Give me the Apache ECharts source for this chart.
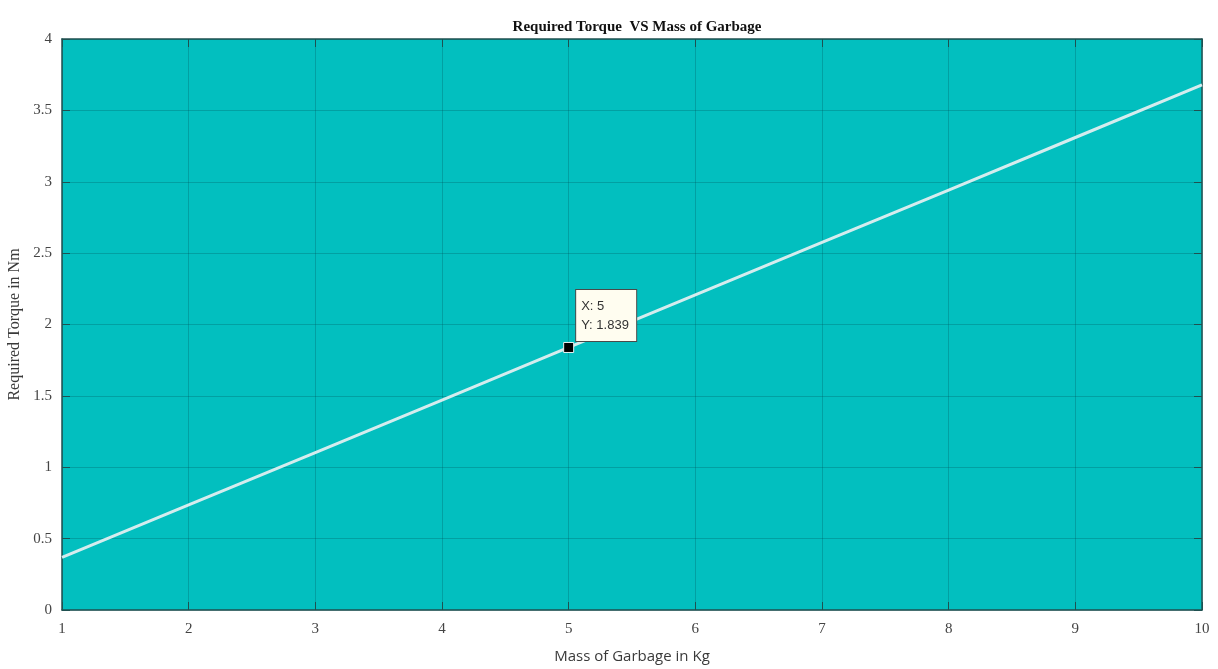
<!DOCTYPE html>
<html>
<head>
<meta charset="utf-8">
<script src="https://cdn.jsdelivr.net/npm/echarts@6/dist/echarts.min.js"></script>
<style>html,body{margin:0;padding:0;background:#fff;}#c{width:1218px;height:669px;}</style>
</head>
<body>
<div id="c"></div>
<script>
const massKg = [1, 2, 3, 4, 5, 6, 7, 8, 9, 10];
const torqueNm = [0.368, 0.736, 1.103, 1.471, 1.839, 2.207, 2.575, 2.942, 3.310, 3.678];
const tipPoint = [5, 1.839];
const titleText = 'Required Torque  VS Mass of Garbage';
const xName = 'Mass of Garbage in Kg';
const yName = 'Required Torque in Nm';

const chart = echarts.init(document.getElementById('c'));
const serif = '"Liberation Serif", "DejaVu Serif", serif';
const axisCol = '#1f5050';
const gridCol = 'rgba(0,80,85,0.28)';
const tickLbl = { fontFamily: serif, fontSize: 15, color: '#444' };

chart.setOption({
  backgroundColor: '#ffffff',
  animation: false,
  title: {
    text: titleText, left: 632, top: 15, textAlign: 'center',
    textStyle: { fontFamily: serif, fontWeight: 'bold', fontSize: 15, color: '#111' }
  },
  grid: { left: 62, right: 16, top: 39, bottom: 59, show: true, backgroundColor: '#02bfbf', borderWidth: 0, containLabel: false, outerBoundsMode: 'none' },
  xAxis: [{
    type: 'value', min: 1, max: 10, interval: 1,
    name: xName, nameLocation: 'middle', nameGap: 39,
    nameTextStyle: { fontFamily: '"Open Sans", "Noto Sans", sans-serif', fontSize: 15, color: '#3a3a3a' },
    axisLine: { show: true, onZero: false, lineStyle: { color: axisCol, width: 1.5 } },
    axisTick: { show: true, inside: true, length: 8, lineStyle: { color: axisCol } },
    axisLabel: Object.assign({ margin: 12 }, tickLbl),
    splitLine: { show: true, lineStyle: { color: gridCol, width: 1 } }
  }, {
    type: 'value', min: 1, max: 10, interval: 1, position: 'top',
    axisLine: { show: true, onZero: false, lineStyle: { color: axisCol, width: 1.5 } },
    axisTick: { show: true, inside: true, length: 8, lineStyle: { color: axisCol } },
    axisLabel: { show: false }, splitLine: { show: false }
  }],
  yAxis: [{
    type: 'value', min: 0, max: 4, interval: 0.5,
    name: yName, nameLocation: 'middle', nameGap: 36,
    nameTextStyle: { fontFamily: serif, fontSize: 16, color: '#3a3a3a' },
    axisLine: { show: true, onZero: false, lineStyle: { color: axisCol, width: 1.5 } },
    axisTick: { show: true, inside: true, length: 8, lineStyle: { color: axisCol } },
    axisLabel: Object.assign({ margin: 10 }, tickLbl),
    splitLine: { show: true, lineStyle: { color: gridCol, width: 1 } }
  }, {
    type: 'value', min: 0, max: 4, interval: 0.5, position: 'right',
    axisLine: { show: true, onZero: false, lineStyle: { color: axisCol, width: 1.5 } },
    axisTick: { show: true, inside: true, length: 8, lineStyle: { color: axisCol } },
    axisLabel: { show: false }, splitLine: { show: false }
  }],
  series: [{
    type: 'line',
    data: massKg.map((m, i) => [m, torqueNm[i]]),
    showSymbol: false,
    lineStyle: { color: '#d4ecee', width: 3 },
    z: 3
  }, {
    type: 'scatter',
    data: [tipPoint],
    symbol: 'rect', symbolSize: 10,
    itemStyle: { color: '#000', borderColor: '#e8f4f4', borderWidth: 1, opacity: 1 },
    z: 5,
    label: {
      show: true,
      formatter: () => 'X: ' + tipPoint[0] + '\nY: ' + tipPoint[1].toFixed(3),
      position: [13, -52],
      fontFamily: '"Liberation Sans", Arial, sans-serif',
      fontSize: 13, lineHeight: 19, color: '#333',
      backgroundColor: '#fffdf0', borderColor: '#4a4a4a', borderWidth: 1,
      padding: [7, 6, 6, 5], width: 49
    }
  }]
});
</script>
</body>
</html>
